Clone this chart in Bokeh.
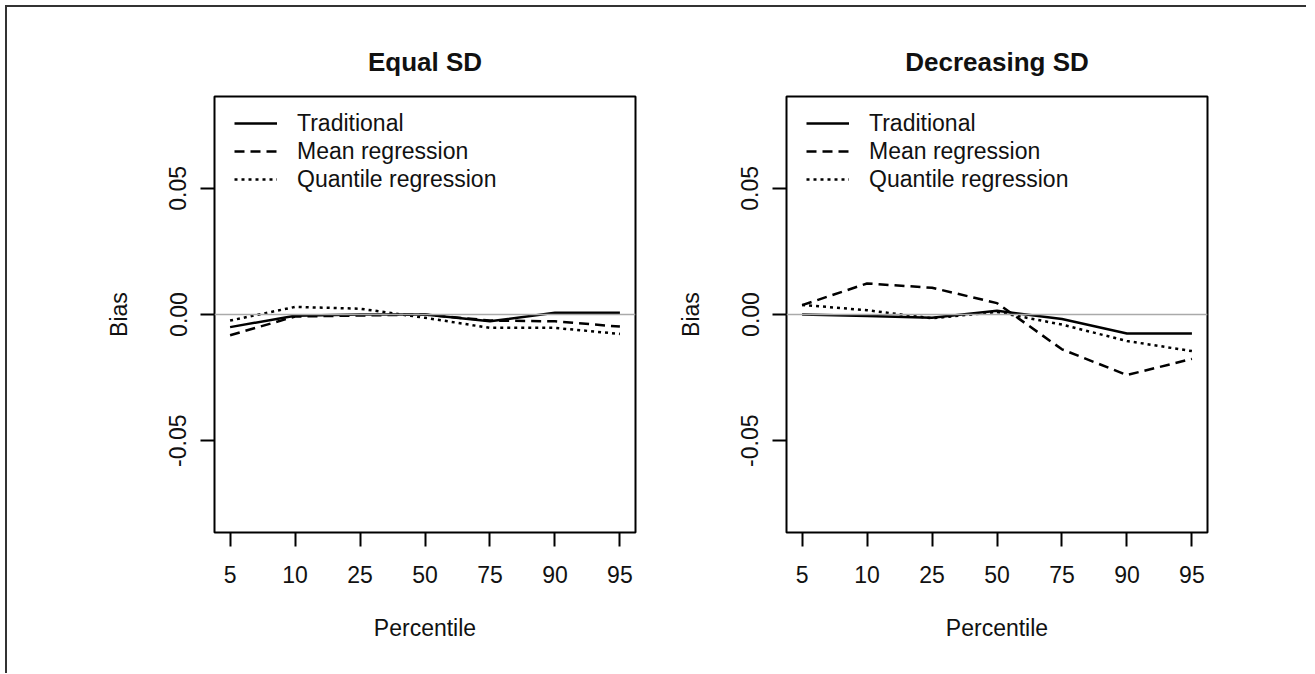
from bokeh.plotting import figure
from bokeh.layouts import row
from bokeh.models import (FixedTicker, Span, Legend, LegendItem, Range1d,
                          NumeralTickFormatter)
from bokeh.embed import file_html
from bokeh.resources import INLINE

# ---------------- data ----------------
positions = [1, 2, 3, 4, 5, 6, 7]
percentile_labels = ["5", "10", "25", "50", "75", "90", "95"]
y_ticks = [-0.05, 0.0, 0.05]

series_names = ["Traditional", "Mean regression", "Quantile regression"]

equal_traditional = [-0.0050, -0.0005, 0.0000, 0.0000, -0.0027, 0.0007, 0.0007]
equal_mean = [-0.0082, -0.0008, -0.0004, 0.0000, -0.0024, -0.0027, -0.0048]
equal_quantile = [-0.0024, 0.0030, 0.0023, -0.0013, -0.0053, -0.0053, -0.0077]

dec_traditional = [0.0000, -0.0006, -0.0013, 0.0015, -0.0018, -0.0075, -0.0075]
dec_mean = [0.0037, 0.0123, 0.0106, 0.0045, -0.0138, -0.0240, -0.0176]
dec_quantile = [0.0038, 0.0017, -0.0015, 0.0010, -0.0040, -0.0105, -0.0145]

FONT = "Liberation Sans"
H = 666


def make_panel(title, trad, mean, quant, width, min_left, min_right):
    p = figure(width=width, height=H,
               x_range=Range1d(0.76, 7.24), y_range=Range1d(-0.0864, 0.0864),
               output_backend="svg", toolbar_location=None,
               min_border_left=min_left, min_border_right=min_right,
               min_border_top=89, min_border_bottom=H - 89 - 436)
    p.title.text = title
    p.title.text_font = FONT
    p.title.text_font_size = "26px"
    p.title.text_font_style = "bold"
    p.title.text_color = "#111111"
    p.title.align = "center"
    p.title.standoff = 40

    p.grid.visible = False
    p.outline_line_color = "black"
    p.outline_line_width = 2
    p.background_fill_color = "white"
    p.border_fill_color = "white"

    xa = p.xaxis[0]
    ya = p.yaxis[0]
    xa.ticker = FixedTicker(ticks=positions)
    xa.major_label_overrides = {pos: lab for pos, lab in zip(positions, percentile_labels)}
    ya.ticker = FixedTicker(ticks=y_ticks)
    ya.formatter = NumeralTickFormatter(format="0.00")
    ya.major_label_orientation = "vertical"
    xa.axis_label = "Percentile"
    ya.axis_label = "Bias"
    for ax in (xa, ya):
        ax.axis_line_color = None
        ax.major_tick_line_color = "black"
        ax.major_tick_line_width = 2
        ax.major_tick_out = 14
        ax.major_tick_in = 0
        ax.minor_tick_line_color = None
        ax.major_label_text_font = FONT
        ax.major_label_text_font_size = "23px"
        ax.major_label_text_color = "#111111"
        ax.axis_label_text_font = FONT
        ax.axis_label_text_font_size = "23px"
        ax.axis_label_text_font_style = "normal"
        ax.axis_label_text_color = "#111111"
    xa.major_label_standoff = 19
    xa.axis_label_standoff = 29
    ya.major_label_standoff = 14
    ya.axis_label_standoff = 35

    p.add_layout(Span(location=0, dimension="width", line_color="#aaaaaa",
                      line_width=1.5))

    r1 = p.line(positions, trad, line_color="black", line_width=2.5)
    r2 = p.line(positions, mean, line_color="black", line_width=2.5,
                line_dash="10 6")
    r3 = p.line(positions, quant, line_color="black", line_width=2.5,
                line_dash="3 4")

    legend = Legend(items=[LegendItem(label=series_names[0], renderers=[r1]),
                           LegendItem(label=series_names[1], renderers=[r2]),
                           LegendItem(label=series_names[2], renderers=[r3])],
                    location=(20, 339), padding=0, spacing=0, margin=0,
                    glyph_width=43, glyph_height=28, label_height=28,
                    label_standoff=20, border_line_color=None,
                    background_fill_alpha=0,
                    label_text_font=FONT, label_text_font_size="23px",
                    label_text_color="#111111")
    p.add_layout(legend)
    return p


p1 = make_panel("Equal SD", equal_traditional, equal_mean, equal_quantile,
                650, 207, 22)
p2 = make_panel("Decreasing SD", dec_traditional, dec_mean, dec_quantile,
                649, 129, 99)

layout = row(p1, p2, styles={"margin-left": "5px", "margin-top": "5px",
                             "border-left": "2px solid #333333",
                             "border-top": "2px solid #333333"})

open("out.html", "w").write(file_html(layout, INLINE))
